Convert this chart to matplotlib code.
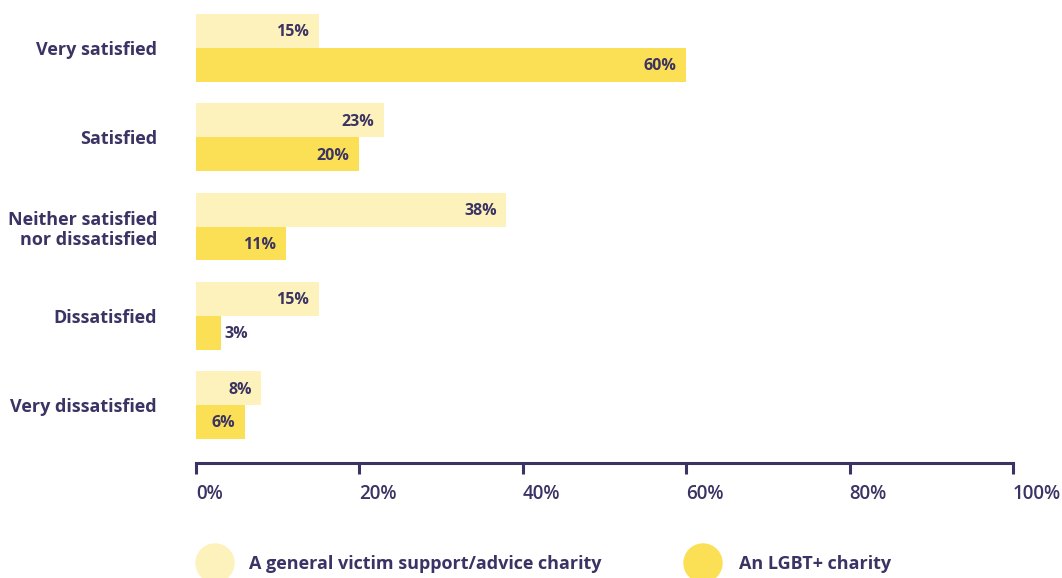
import matplotlib
matplotlib.use('Agg')
import matplotlib.pyplot as plt
from matplotlib.patches import Ellipse
import numpy as np

categories = ['Very satisfied', 'Satisfied', 'Neither satisfied\nnor dissatisfied',
              'Dissatisfied', 'Very dissatisfied']
general_charity = [15, 23, 38, 15, 8]
lgbt_charity = [60, 20, 11, 3, 6]
series_names = ['A general victim support/advice charity', 'An LGBT+ charity']
x_ticks = [0, 20, 40, 60, 80, 100]

NAVY = '#3b3363'
LIGHT = '#fdf2bb'
GOLD = '#fbe056'

plt.rcParams['font.family'] = ['Open Sans', 'DejaVu Sans']

fig = plt.figure(figsize=(10.62, 5.78), dpi=100)
W, H = 1062, 578
ax = fig.add_axes([196 / W, 1 - 463 / H, (1013 - 196) / W, (463 - 14) / H])

y = np.arange(len(categories))
bh = 0.38
ax.barh(y - bh / 2, general_charity, height=bh, color=LIGHT, zorder=2)
ax.barh(y + bh / 2, lgbt_charity, height=bh, color=GOLD, zorder=2)

# value labels: inside the bar end, or just outside when the bar is too short
for vals, off in ((general_charity, -bh / 2), (lgbt_charity, bh / 2)):
    for yi, v in zip(y, vals):
        if v >= 5:
            ax.annotate(f'{v}%', (v, yi + off), xytext=(-7, -1), textcoords='offset points',
                        ha='right', va='center', fontsize=11.5, fontweight='bold', color=NAVY)
        else:
            ax.annotate(f'{v}%', (v, yi + off), xytext=(3, -1), textcoords='offset points',
                        ha='left', va='center', fontsize=11.5, fontweight='bold', color=NAVY)

ax.set_xlim(0, 100)
ax.set_ylim(4.648, -0.38)
ax.set_yticks(y)
ax.set_yticklabels(categories, fontsize=13, fontweight='bold', color=NAVY, linespacing=1.2)
ax.tick_params(axis='y', length=0, pad=28)

ax.set_xticks(x_ticks)
ax.set_xticklabels([f'{t}%' for t in x_ticks], fontsize=13.5, fontweight='semibold',
                   color=NAVY, ha='left')
ax.tick_params(axis='x', direction='out', length=8, width=2.2, color=NAVY, pad=7)
for lbl in ax.get_xticklabels():
    lbl.set_x(0)

for side in ('top', 'right', 'left'):
    ax.spines[side].set_visible(False)
ax.spines['bottom'].set_color(NAVY)
ax.spines['bottom'].set_linewidth(2.2)

# legend drawn by hand with round swatches
legend_items = [(215, 249, LIGHT), (703, 739, GOLD)]
for (cx, tx, col), name in zip(legend_items, series_names):
    fig.add_artist(Ellipse((cx / W, 1 - 563 / H), 38 / W, 38 / H,
                           transform=fig.transFigure, color=col))
    fig.text(tx / W, 1 - 564 / H, name, ha='left', va='center',
             fontsize=13, fontweight='bold', color=NAVY)

fig.savefig('out.png', dpi=100)
